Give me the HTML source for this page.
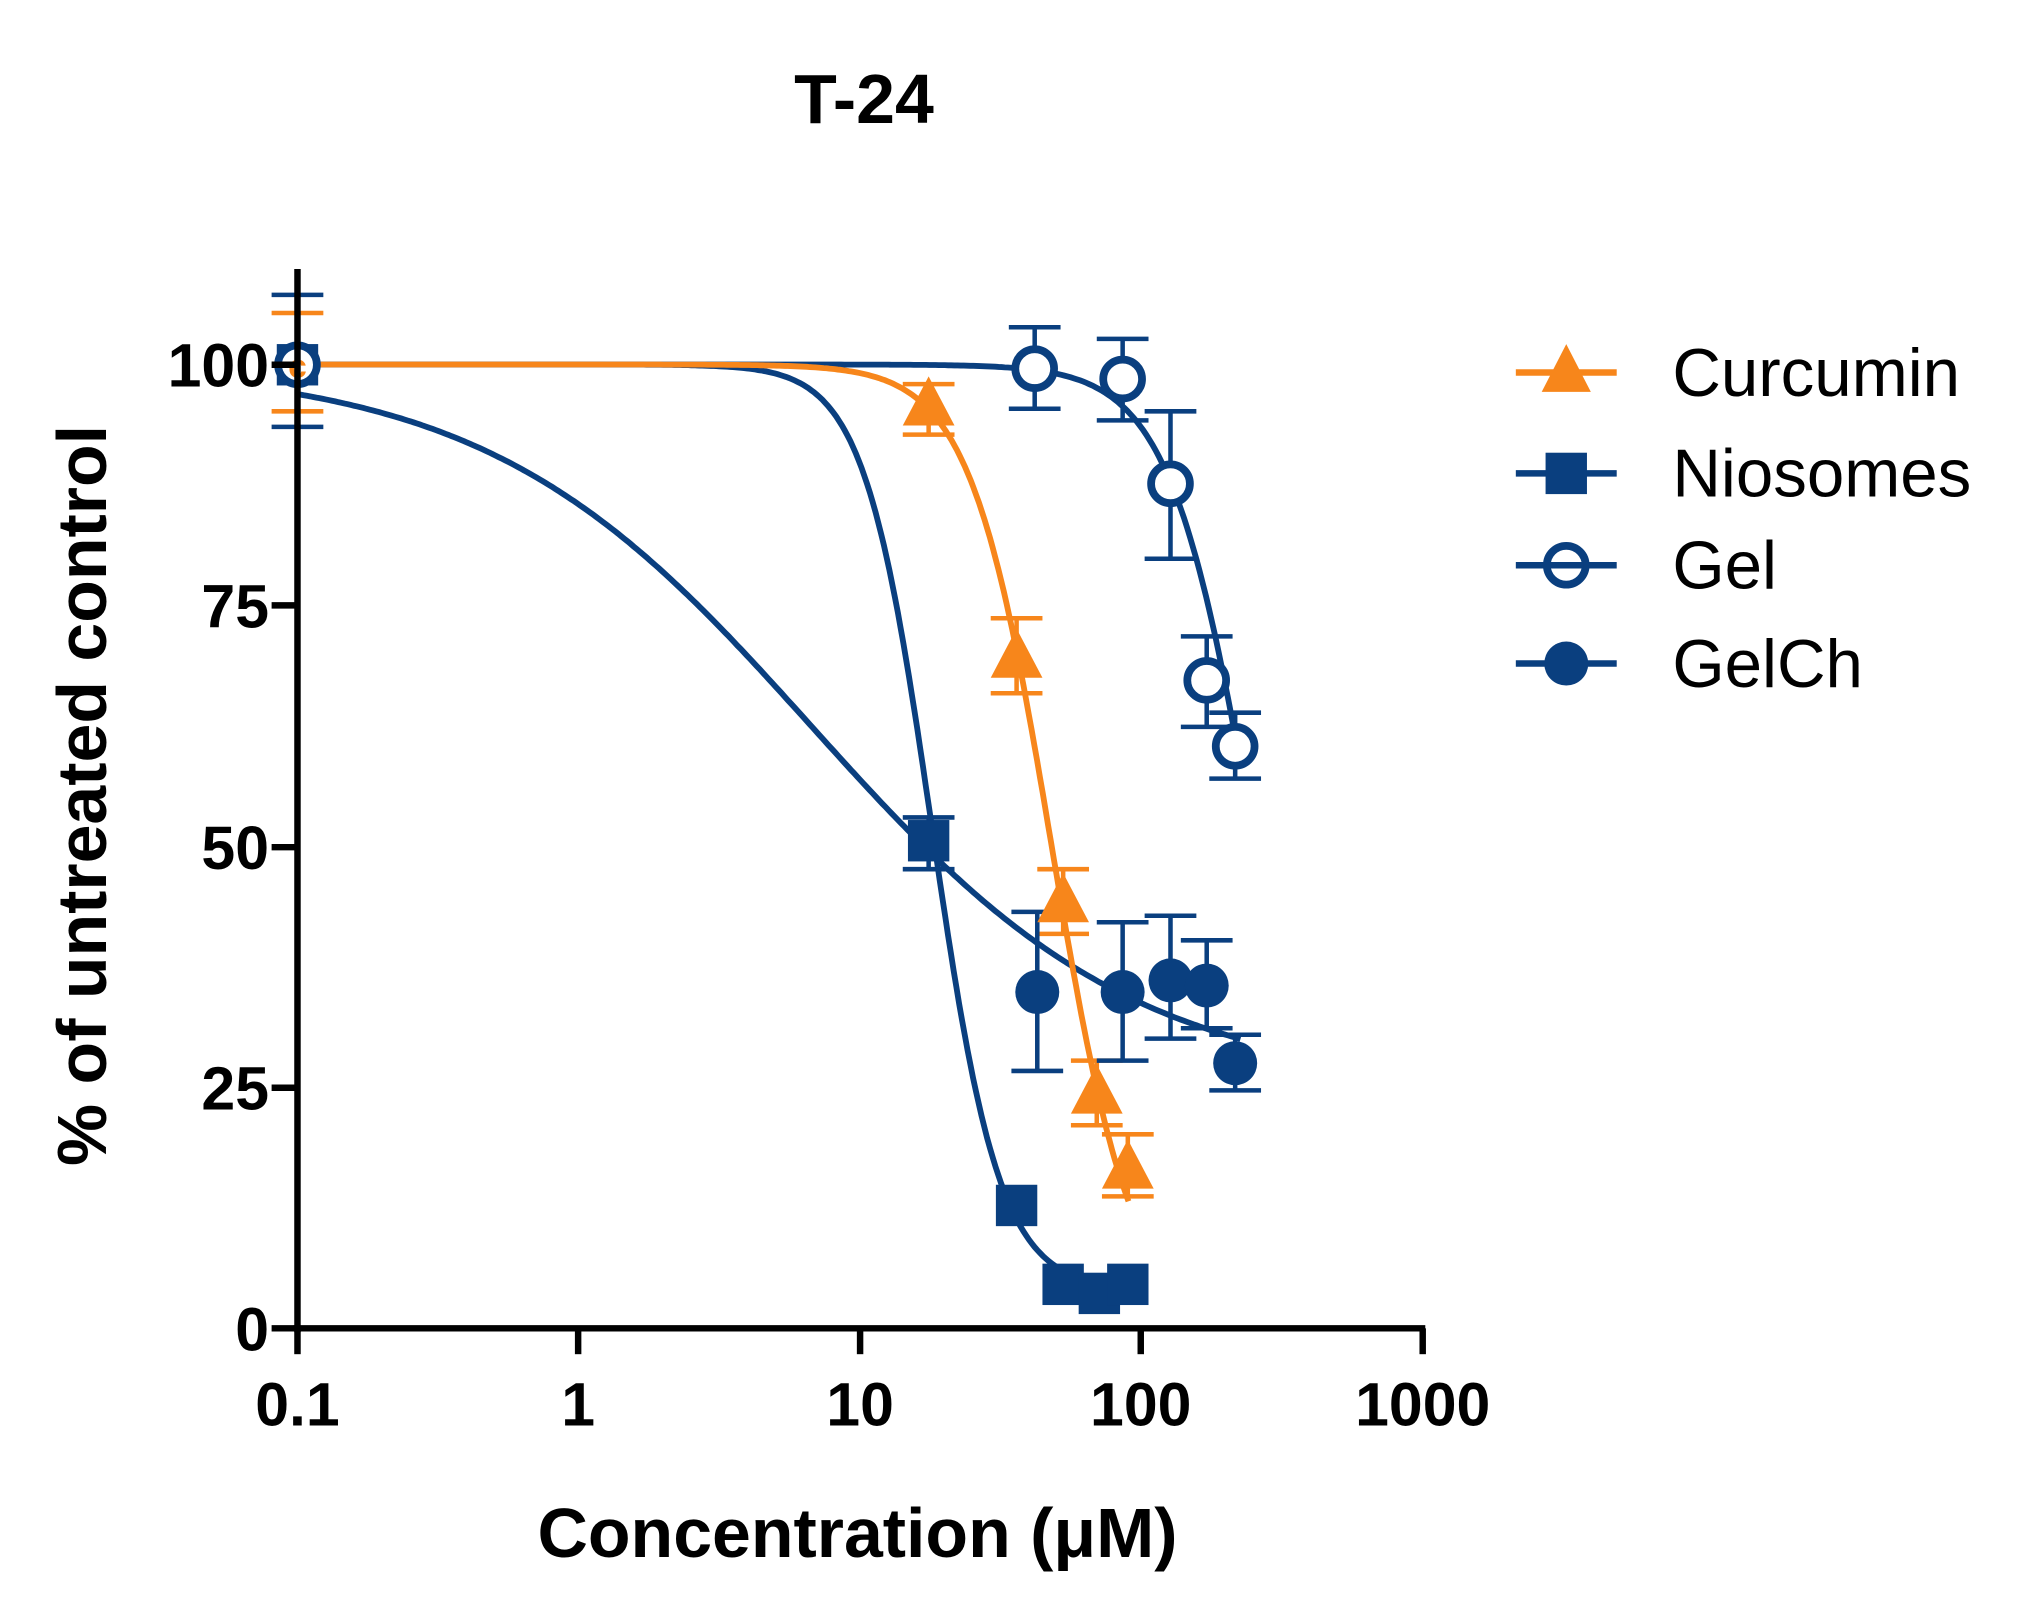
<!DOCTYPE html>
<html><head><meta charset="utf-8"><style>
html,body{margin:0;padding:0;background:#fff}
svg{display:block}
text{font-family:"Liberation Sans",Arial,sans-serif}
</style></head><body>
<svg id="s" width="2028" height="1616" viewBox="0 0 1568 1249.4" xmlns="http://www.w3.org/2000/svg">
<rect width="1568" height="1250" fill="#fff"/>
<text x="668" y="95" font-size="54" font-weight="bold" text-anchor="middle">T-24</text>
<g id="g"></g>
<g stroke="#000" stroke-width="5" fill="none">
<line x1="230" y1="208" x2="230" y2="1030"/>
<line x1="227" y1="1027" x2="1102" y2="1027"/>
<line x1="210" y1="282" x2="230" y2="282"/><line x1="210" y1="468" x2="230" y2="468"/>
<line x1="210" y1="655" x2="230" y2="655"/><line x1="210" y1="841" x2="230" y2="841"/>
<line x1="210" y1="1027" x2="230" y2="1027"/>
<line x1="230" y1="1027" x2="230" y2="1047"/><line x1="447" y1="1027" x2="447" y2="1047"/>
<line x1="665" y1="1027" x2="665" y2="1047"/><line x1="882" y1="1027" x2="882" y2="1047"/>
<line x1="1100" y1="1027" x2="1100" y2="1047"/>
</g>
<g font-size="47" font-weight="bold" text-anchor="end">
<text x="208" y="299">100</text><text x="208" y="485">75</text><text x="208" y="672">50</text>
<text x="208" y="858">25</text><text x="208" y="1044">0</text>
</g>
<g font-size="47" font-weight="bold" text-anchor="middle">
<text x="230" y="1102">0.1</text><text x="447" y="1102">1</text><text x="665" y="1102">10</text>
<text x="882" y="1102">100</text><text x="1100" y="1102">1000</text>
</g>
<text x="663" y="1204" font-size="54" font-weight="bold" text-anchor="middle">Concentration (μM)</text>
<text transform="translate(82,615) rotate(-90)" font-size="54" font-weight="bold" text-anchor="middle">% of untreated control</text>
<g font-size="52">
<text x="1293" y="306">Curcumin</text><text x="1293" y="384">Niosomes</text>
<text x="1293" y="455">Gel</text><text x="1293" y="531">GelCh</text>
</g>
<g stroke-width="5">
<line x1="1172" y1="288" x2="1250" y2="288" stroke="#f7861b"/>
<polygon points="1211,266 1230,303 1192,303" fill="#f7861b"/>
<line x1="1172" y1="366" x2="1250" y2="366" stroke="#0a3f7f"/>
<rect x="1195" y="350" width="32" height="32" fill="#0a3f7f"/>
<line x1="1172" y1="437" x2="1250" y2="437" stroke="#0a3f7f"/>
<circle cx="1211" cy="437" r="15" fill="#fff" stroke="#0a3f7f" stroke-width="6"/>
<line x1="1198" y1="437" x2="1224" y2="437" stroke="#0a3f7f"/>
<line x1="1172" y1="513" x2="1250" y2="513" stroke="#0a3f7f"/>
<circle cx="1211" cy="513" r="17" fill="#0a3f7f"/>
</g>
</svg>
<script>
var B="#0a3f7f",O="#f7861b",NS="http://www.w3.org/2000/svg",g=document.getElementById("g");
function X(c){return 230+217.5*Math.log10(c/0.1)}
function Y(v){return 1027-7.452*v}
function el(t,a){var e=document.createElementNS(NS,t);for(var k in a)e.setAttribute(k,a[k]);g.appendChild(e);return e}
function curve(top,bot,ic,h,c1,col){var d="";for(var i=0;i<=300;i++){var lc=Math.log10(0.1)+(Math.log10(c1)-Math.log10(0.1))*i/300,c=Math.pow(10,lc);var v=bot+(top-bot)/(1+Math.pow(c/ic,h));d+=(i?"L":"M")+X(c).toFixed(1)+","+Y(v).toFixed(1);}
el("path",{d:d,fill:"none",stroke:col,"stroke-width":4.5});}
function eb(x,y1,y2,col){el("line",{x1:x,y1:y1,x2:x,y2:y2,stroke:col,"stroke-width":3.5});
el("line",{x1:x-20,y1:y1,x2:x+20,y2:y1,stroke:col,"stroke-width":3.5});el("line",{x1:x-20,y1:y2,x2:x+20,y2:y2,stroke:col,"stroke-width":3.5});}
eb(230,228,330,B);eb(230,242,318,O);
[[718,297,336],[786,478,536],[822,672,722],[848,820,870],[872,877,925]].forEach(function(a){eb(a[0],a[1],a[2],O)});
[[718,632,672]].forEach(function(a){eb(a[0],a[1],a[2],B)});
[[800,253,316],[868,262,325],[905,318,432],[933,492,562],[955,551,602]].forEach(function(a){eb(a[0],a[1],a[2],B)});
[[802,705,828],[868,713,820],[905,708,803],[933,727,795],[955,800,843]].forEach(function(a){eb(a[0],a[1],a[2],B)});
curve(100,4,18,3.6,95,B);
curve(100,25,6.7,0.75,225,B);
curve(100,0,254,2.85,225,B);
curve(100,0,48,3,90,O);
[[718,650],[786,932],[822,993],[850,1000],[872,993],[230,282]].forEach(function(p){el("rect",{x:p[0]-16,y:p[1]-16,width:32,height:32,fill:B})});
[[802,767],[868,767],[905,758],[933,762],[955,822]].forEach(function(p){el("circle",{cx:p[0],cy:p[1],r:17,fill:B})});
[[230,282],[800,285],[868,293],[905,374],[933,526],[955,577]].forEach(function(p){el("circle",{cx:p[0],cy:p[1],r:15,fill:"#fff",stroke:B,"stroke-width":6})});
[[718,313],[786,508],[822,697],[848,845],[872,903]].forEach(function(p){el("polygon",{points:(p[0])+","+(p[1]-22)+" "+(p[0]+20)+","+(p[1]+16)+" "+(p[0]-20)+","+(p[1]+16),fill:O})});
el("text",{x:230,y:292,"font-size":26,"font-weight":"bold","text-anchor":"middle",fill:O}).textContent="c";
</script>
</body></html>
